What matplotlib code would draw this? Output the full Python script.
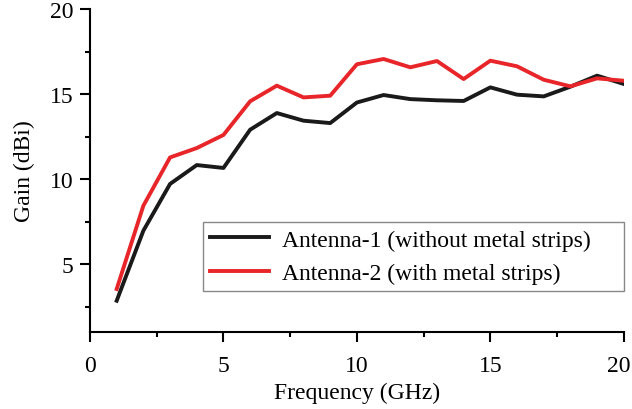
import matplotlib
matplotlib.use("Agg")
import matplotlib.pyplot as plt
from matplotlib.ticker import MultipleLocator
import matplotlib.transforms as mtransforms

freq = [1, 2, 3, 4, 5, 6, 7, 8, 9, 10, 11, 12, 13, 14, 15, 16, 17, 18, 19, 20]
gain_ant1 = [2.84, 6.96, 9.71, 10.82, 10.65, 12.9, 13.88, 13.43, 13.29, 14.5,
             14.94, 14.7, 14.63, 14.59, 15.39, 14.96, 14.86, 15.43, 16.08, 15.59]
gain_ant2 = [3.53, 8.43, 11.27, 11.82, 12.59, 14.57, 15.49, 14.8, 14.9, 16.75,
             17.06, 16.57, 16.94, 15.88, 16.96, 16.63, 15.84, 15.45, 15.92, 15.78]
labels = ["Antenna-1 (without metal strips)", "Antenna-2 (with metal strips)"]

plt.rcParams['font.family'] = ['Liberation Serif', 'DejaVu Serif']
plt.rcParams['font.size'] = 17

fig = plt.figure(figsize=(6.32, 4.10), dpi=100)
ax = fig.add_axes([0.1424, 0.1878, 0.8446, 0.7878])

ax.plot(freq, gain_ant1, color='#1a1a1a', lw=2.8, label=labels[0])
ax.plot(freq, gain_ant2, color='#e8262a', lw=2.8, label=labels[1])

ax.set_xlim(0, 20)
ax.set_ylim(1, 20)
ax.xaxis.set_major_locator(MultipleLocator(5))
ax.xaxis.set_minor_locator(MultipleLocator(2.5))
ax.yaxis.set_major_locator(MultipleLocator(5))
ax.yaxis.set_minor_locator(MultipleLocator(2.5))

for s in ['top', 'right']:
    ax.spines[s].set_visible(False)
for s in ['left', 'bottom']:
    ax.spines[s].set_linewidth(1.5)

ax.tick_params(axis='x', which='major', direction='out', length=7, width=1.5, pad=9.5)
ax.tick_params(axis='x', which='minor', direction='out', length=3.5, width=1.5)
ax.tick_params(axis='y', which='major', direction='out', length=7, width=1.5, pad=5)
ax.tick_params(axis='y', which='minor', direction='out', length=3.5, width=1.5)

ax.set_xlabel('Frequency (GHz)', labelpad=4.5)
ax.set_ylabel('Gain (dBi)', labelpad=10.5)

leg = ax.legend(loc='lower left', bbox_to_anchor=(0.2116, 0.127, 0.788, 0.2),
                mode='expand', borderaxespad=0,
                frameon=True, fancybox=False, edgecolor='#888888', framealpha=1,
                handlelength=2.5, handletextpad=0.55, borderpad=0.3,
                labelspacing=0.5)
leg.get_frame().set_linewidth(1.0)

fig.canvas.draw()
last = ax.xaxis.get_major_ticks()[-1]
for t in ax.xaxis.get_major_ticks():
    if abs(t.get_loc() - 20) < 1e-6:
        last = t
last.label1.set_transform(last.label1.get_transform() +
                          mtransforms.ScaledTranslation(-5 / 100, 0, fig.dpi_scale_trans))

fig.savefig('out.png', dpi=100)
